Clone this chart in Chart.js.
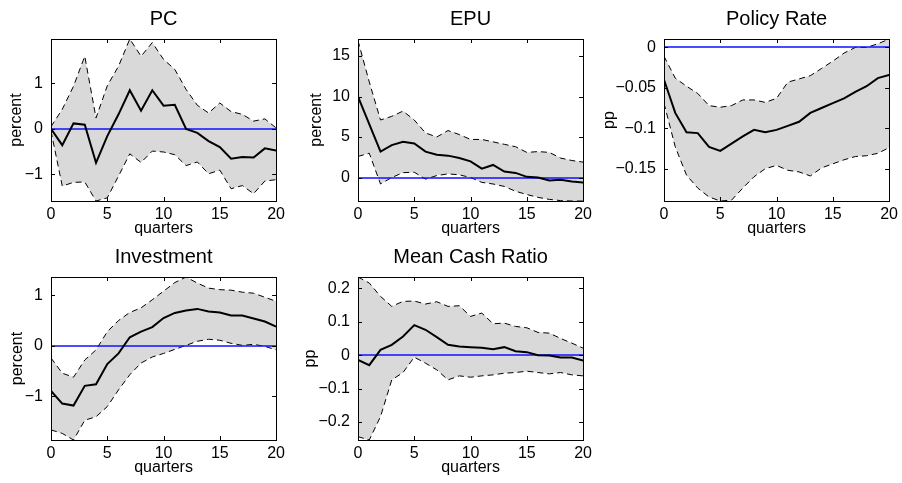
<!DOCTYPE html>
<html>
<head>
<meta charset="utf-8">
<script src="https://cdn.jsdelivr.net/npm/chart.js@4.4.1/dist/chart.umd.min.js"></script>
<style>
  html, body { margin: 0; padding: 0; background: #fff; }
  #wrap { position: relative; width: 902px; height: 483px; overflow: hidden; }
  .panel { position: absolute; }
</style>
</head>
<body>
<div id="wrap">
  <div class="panel" style="left:-9px;top:0px"><canvas id="pc" width="298" height="240"></canvas></div>
  <div class="panel" style="left:298px;top:0px"><canvas id="epu" width="298" height="240"></canvas></div>
  <div class="panel" style="left:604px;top:0px"><canvas id="rate" width="298" height="240"></canvas></div>
  <div class="panel" style="left:-9px;top:238px"><canvas id="inv" width="298" height="241"></canvas></div>
  <div class="panel" style="left:298px;top:238px"><canvas id="cash" width="298" height="241"></canvas></div>
</div>
<script>
// horizon (quarters)
const quarters = [0, 1, 2, 3, 4, 5, 6, 7, 8, 9, 10, 11, 12, 13, 14, 15, 16, 17, 18, 19, 20];
const xTicks = [0, 5, 10, 15, 20];

// PC
const pcMid = [0, -0.36, 0.12, 0.09, -0.75, -0.16, 0.32, 0.85, 0.40, 0.85, 0.51, 0.53, 0.0, -0.09, -0.27, -0.40, -0.66, -0.62, -0.63, -0.43, -0.48];
const pcUp  = [0.05, 0.43, 0.94, 1.60, 0.24, 0.95, 1.38, 1.98, 1.60, 1.90, 1.53, 1.31, 0.87, 0.52, 0.35, 0.57, 0.38, 0.32, 0.17, 0.22, 0.02];
const pcLo  = [-0.05, -1.26, -1.18, -1.17, -1.59, -1.52, -1.04, -0.55, -0.74, -0.49, -0.51, -0.57, -0.81, -0.73, -0.99, -0.91, -1.32, -1.25, -1.43, -1.15, -1.12];
const pcTicks = [-1, 0, 1];

// EPU
const epuMid = [10.0, 6.6, 3.2, 4.0, 4.4, 4.2, 3.2, 2.8, 2.7, 2.4, 2.0, 1.1, 1.55, 0.73, 0.57, 0.08, 0.0, -0.37, -0.29, -0.49, -0.61];
const epuUp  = [16.9, 11.8, 7.1, 7.55, 8.2, 7.1, 5.5, 5.0, 5.8, 5.3, 4.7, 4.7, 4.4, 4.1, 3.8, 3.1, 3.2, 3.1, 2.4, 2.1, 1.9];
const epuLo  = [2.6, 3.0, -0.8, 0.0, 0.6, 0.65, -0.2, 0.24, 0.45, 0.33, 0.0, -0.6, -0.8, -1.1, -1.7, -2.1, -2.45, -2.7, -2.85, -2.9, -2.9];
const epuTicks = [0, 5, 10, 15];

// Policy Rate
const rateMid = [-0.040, -0.081, -0.105, -0.106, -0.123, -0.128, -0.119, -0.110, -0.102, -0.105, -0.102, -0.097, -0.092, -0.081, -0.075, -0.069, -0.063, -0.055, -0.048, -0.038, -0.034];
const rateUp  = [-0.011, -0.038, -0.048, -0.057, -0.072, -0.074, -0.072, -0.065, -0.065, -0.068, -0.063, -0.043, -0.039, -0.035, -0.026, -0.017, -0.007, 0.0, 0.0, 0.0045, 0.0103];
const rateLo  = [-0.069, -0.123, -0.158, -0.174, -0.185, -0.190, -0.189, -0.174, -0.160, -0.150, -0.146, -0.152, -0.154, -0.159, -0.149, -0.144, -0.139, -0.135, -0.134, -0.131, -0.124];
const rateTicks = [-0.15, -0.1, -0.05, 0];

// Investment
const invMid = [-0.89, -1.14, -1.18, -0.79, -0.76, -0.36, -0.15, 0.17, 0.28, 0.37, 0.55, 0.65, 0.70, 0.73, 0.68, 0.66, 0.60, 0.60, 0.54, 0.48, 0.38];
const invUp  = [-0.24, -0.54, -0.62, -0.28, -0.08, 0.28, 0.50, 0.66, 0.75, 0.91, 1.08, 1.25, 1.36, 1.24, 1.14, 1.11, 1.10, 1.06, 1.04, 0.96, 0.88];
const invLo  = [-1.66, -1.73, -1.86, -1.47, -1.40, -1.20, -0.87, -0.57, -0.34, -0.22, -0.15, -0.07, 0.01, 0.09, 0.13, 0.11, 0.05, 0.01, 0.03, -0.01, -0.08];
const invTicks = [-1, 0, 1];

// Mean Cash Ratio
const cashMid = [-0.014, -0.030, 0.016, 0.031, 0.056, 0.090, 0.076, 0.054, 0.031, 0.026, 0.024, 0.022, 0.018, 0.024, 0.012, 0.009, 0.0, -0.001, -0.007, -0.007, -0.016];
const cashUp  = [0.234, 0.216, 0.176, 0.146, 0.161, 0.162, 0.153, 0.160, 0.146, 0.148, 0.116, 0.126, 0.094, 0.096, 0.086, 0.082, 0.068, 0.066, 0.050, 0.036, 0.021];
const cashLo  = [-0.244, -0.254, -0.184, -0.074, -0.052, -0.006, -0.024, -0.044, -0.074, -0.062, -0.066, -0.062, -0.059, -0.054, -0.052, -0.048, -0.052, -0.056, -0.052, -0.059, -0.062];
const cashTicks = [-0.2, -0.1, 0, 0.1, 0.2];

const FONT = "'Liberation Sans', Arial, Helvetica, sans-serif";
const Y_AXIS_W = 60;

// MATLAB-like box with inward tick marks on all four sides
const boxPlugin = {
  id: "boxPlugin",
  afterDraw(chart) {
    const { ctx, chartArea: a, scales } = chart;
    const len = 4;
    ctx.save();
    ctx.strokeStyle = "#000";
    ctx.lineWidth = 1;
    ctx.beginPath();
    scales.x.ticks.forEach((t) => {
      const px = Math.round(scales.x.getPixelForValue(t.value)) + 0.5;
      ctx.moveTo(px, a.bottom); ctx.lineTo(px, a.bottom - len);
      ctx.moveTo(px, a.top); ctx.lineTo(px, a.top + len);
    });
    scales.y.ticks.forEach((t) => {
      const py = Math.round(scales.y.getPixelForValue(t.value)) + 0.5;
      ctx.moveTo(a.left, py); ctx.lineTo(a.left + len, py);
      ctx.moveTo(a.right, py); ctx.lineTo(a.right - len, py);
    });
    ctx.stroke();
    ctx.strokeRect(Math.round(a.left) + 0.5, Math.round(a.top) + 0.5,
      Math.round(a.right - a.left), Math.round(a.bottom - a.top));
    ctx.restore();
  },
};

// blue zero line, drawn just before the median (dataset 0) so it sits under it.
// Centred on a pixel boundary so it reads as a soft two-row line like the original.
const zeroLine = {
  id: "zeroLine",
  beforeDatasetDraw(chart, args) {
    if (args.index !== 0) return;
    const { ctx, chartArea: a, scales } = chart;
    const py = Math.round(scales.y.getPixelForValue(0));
    ctx.save();
    ctx.strokeStyle = "#1010ff";
    ctx.lineWidth = 1.5;
    ctx.beginPath();
    ctx.moveTo(a.left, py);
    ctx.lineTo(a.right, py);
    ctx.stroke();
    ctx.restore();
  },
};

// panel title centred over the axes box, as MATLAB does
const panelTitle = {
  id: "panelTitle",
  afterDraw(chart, args, opts) {
    const { ctx, chartArea: a } = chart;
    ctx.save();
    ctx.fillStyle = "#000";
    ctx.font = `20px ${FONT}`;
    ctx.textAlign = "center";
    ctx.textBaseline = "middle";
    ctx.fillText(opts.text, (a.left + a.right) / 2, 19.5);
    ctx.restore();
  },
};

const pts = (ys) => quarters.map((q, i) => ({ x: q, y: ys[i] }));
const fmt = (v) => {
  const s = String(Math.round(v * 1000) / 1000);
  return s.replace("-", "\u2212");
};

// labelOffset: distance from the box's left edge to the centre of the y label
function makePanel(id, title, yLabel, mid, up, lo, yMin, yMax, yTicks, labelOffset) {
  return new Chart(document.getElementById(id), {
    type: "line",
    data: {
      datasets: [
        { data: pts(mid), borderColor: "#000", borderWidth: 2, pointRadius: 0, tension: 0, fill: false },
        { data: pts(lo), borderColor: "#000", borderWidth: 1, borderDash: [6, 4], pointRadius: 0, tension: 0, fill: false },
        {
          data: pts(up), borderColor: "#000", borderWidth: 1, borderDash: [6, 4], pointRadius: 0, tension: 0,
          fill: "-1", backgroundColor: "#d9d9d9",
        },
      ],
    },
    options: {
      responsive: false,
      animation: false,
      events: [],
      layout: { padding: { left: 0, right: 10, top: 39, bottom: 0 } },
      plugins: {
        legend: { display: false },
        tooltip: { enabled: false },
        title: { display: false },
        panelTitle: { text: title },
      },
      scales: {
        x: {
          type: "linear",
          min: 0,
          max: 20,
          afterBuildTicks: (s) => { s.ticks = xTicks.map((v) => ({ value: v })); },
          afterFit: (s) => { s.height = 39; },
          grid: { display: false, drawTicks: false },
          border: { display: false },
          ticks: { color: "#000", padding: 4, maxRotation: 0, autoSkip: false, font: { family: FONT, size: 16 } },
          title: { display: true, text: "quarters", color: "#000", font: { family: FONT, size: 16 }, padding: { top: 0, bottom: 2 } },
        },
        y: {
          min: yMin,
          max: yMax,
          afterBuildTicks: (s) => { s.ticks = yTicks.map((v) => ({ value: v })); },
          afterFit: (s) => { s.width = Y_AXIS_W; },
          grid: { display: false, drawTicks: false },
          border: { display: false },
          ticks: { color: "#000", padding: 8, callback: (v) => fmt(v), font: { family: FONT, size: 16 } },
          title: {
            display: true, text: yLabel, color: "#000", font: { family: FONT, size: 16 },
            padding: { top: Y_AXIS_W - labelOffset - 9.6, bottom: 0 },
          },
        },
      },
    },
    plugins: [zeroLine, boxPlugin, panelTitle],
  });
}

makePanel("pc", "PC", "percent", pcMid, pcUp, pcLo, -1.59, 1.98, pcTicks, 34.5);
makePanel("epu", "EPU", "percent", epuMid, epuUp, epuLo, -2.9, 17.1, epuTicks, 41);
makePanel("rate", "Policy Rate", "pp", rateMid, rateUp, rateLo, -0.19, 0.0104, rateTicks, 54);
makePanel("inv", "Investment", "percent", invMid, invUp, invLo, -1.86, 1.36, invTicks, 33.5);
makePanel("cash", "Mean Cash Ratio", "pp", cashMid, cashUp, cashLo, -0.254, 0.234, cashTicks, 47);
</script>
</body>
</html>
